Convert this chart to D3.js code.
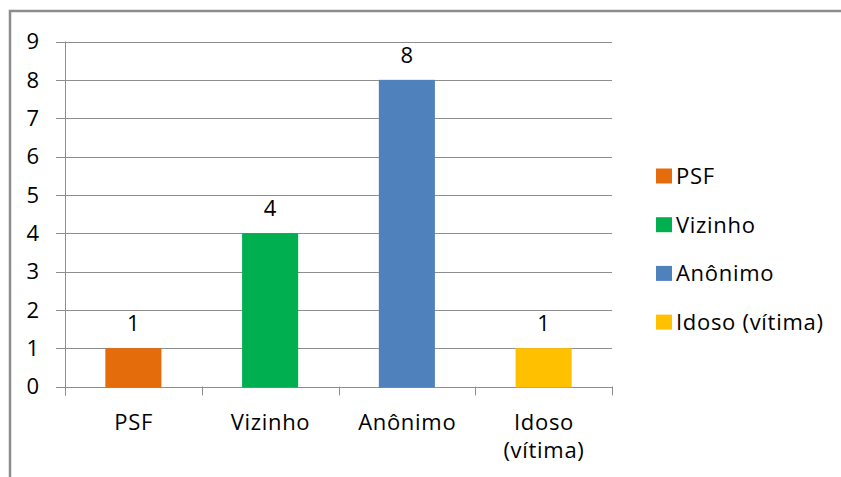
<!DOCTYPE html>
<html>
<head>
<meta charset="utf-8">
<script src="https://cdn.jsdelivr.net/npm/d3@7"></script>
<style>
  html, body { margin: 0; padding: 0; background: #fff; }
  svg { display: block; }
  text { font-family: "Open Sans", "Noto Sans", sans-serif; fill: #000; letter-spacing: 0.7px; }
</style>
</head>
<body>
<svg id="chart" width="841" height="477"></svg>
<script>
// Number of reports by source
const categories = ["PSF", "Vizinho", "Anônimo", "Idoso (vítima)"];
const axisLabels = [["PSF"], ["Vizinho"], ["Anônimo"], ["Idoso", "(vítima)"]];
const values = [1, 4, 8, 1];
const colors = ["#E46C0A", "#00B050", "#4F81BD", "#FFC000"];
const yTicks = [0, 1, 2, 3, 4, 5, 6, 7, 8, 9];

const svg = d3.select("#chart");
const fontSize = 22;

// outer frame
svg.append("rect")
  .attr("x", 10).attr("y", 11)
  .attr("width", 900).attr("height", 600)
  .attr("fill", "none")
  .attr("stroke", "#8c8c8c")
  .attr("stroke-width", 2.5);

const plot = { left: 65, right: 612, top: 41.5, bottom: 386.5 };

const y = d3.scaleLinear().domain([0, 9]).range([plot.bottom, plot.top]);
const x = d3.scaleBand().domain(categories)
  .range([plot.left, plot.right])
  .paddingInner(0.59).paddingOuter(0.295);

const gridColor = "#8e8e8e";

// horizontal gridlines with left tick stubs
svg.append("g").selectAll("line")
  .data(yTicks)
  .join("line")
  .attr("x1", plot.left - 9).attr("x2", plot.right)
  .attr("y1", d => Math.round(y(d)) + 0.5).attr("y2", d => Math.round(y(d)) + 0.5)
  .attr("stroke", gridColor).attr("stroke-width", 1);

// y axis labels
svg.append("g").selectAll("text")
  .data(yTicks)
  .join("text")
  .attr("x", 39)
  .attr("y", d => y(d))
  .attr("dy", "0.36em")
  .attr("text-anchor", "end")
  .style("font-size", fontSize + "px")
  .style("letter-spacing", "0px")
  .text(d => d);

// y axis line
svg.append("line")
  .attr("x1", plot.left + 0.5).attr("x2", plot.left + 0.5)
  .attr("y1", plot.top).attr("y2", plot.bottom + 9)
  .attr("stroke", gridColor);

// x axis tick marks at category boundaries
const step = x.step();
const bounds = categories.map((c, i) => plot.left + i * step).concat([plot.right]);
svg.append("g").selectAll("line")
  .data(bounds)
  .join("line")
  .attr("x1", d => Math.round(d) + 0.5).attr("x2", d => Math.round(d) + 0.5)
  .attr("y1", plot.bottom).attr("y2", plot.bottom + 9)
  .attr("stroke", gridColor);

// bars
svg.append("g").selectAll("rect")
  .data(categories)
  .join("rect")
  .attr("x", d => x(d))
  .attr("y", (d, i) => y(values[i]))
  .attr("width", x.bandwidth())
  .attr("height", (d, i) => y(0) - y(values[i]) + 1)
  .attr("fill", (d, i) => colors[i]);

// value labels
svg.append("g").selectAll("text")
  .data(categories)
  .join("text")
  .attr("x", d => x(d) + x.bandwidth() / 2)
  .attr("y", (d, i) => y(values[i]) - 17)
  .attr("text-anchor", "middle")
  .style("font-size", fontSize + "px")
  .style("letter-spacing", "0px")
  .text((d, i) => values[i]);

// category labels
const xl = svg.append("g").selectAll("text")
  .data(categories)
  .join("text")
  .attr("x", d => x(d) + x.bandwidth() / 2 + 0.35)
  .attr("y", 430)
  .attr("text-anchor", "middle")
  .style("font-size", fontSize + "px");
xl.selectAll("tspan")
  .data((d, i) => axisLabels[i])
  .join("tspan")
  .attr("x", function () { return this.parentNode.getAttribute("x"); })
  .attr("dy", (d, j) => j === 0 ? 0 : 28)
  .text(d => d);

// legend
const legend = svg.append("g").selectAll("g")
  .data(categories)
  .join("g")
  .attr("transform", (d, i) => `translate(656, ${176 + i * 48.7})`);
legend.append("rect")
  .attr("x", 0).attr("y", -7.5)
  .attr("width", 16).attr("height", 15)
  .attr("fill", (d, i) => colors[i]);
legend.append("text")
  .attr("x", 20).attr("y", 0)
  .attr("dy", "0.36em")
  .style("font-size", fontSize + "px")
  .text(d => d);
</script>
</body>
</html>
